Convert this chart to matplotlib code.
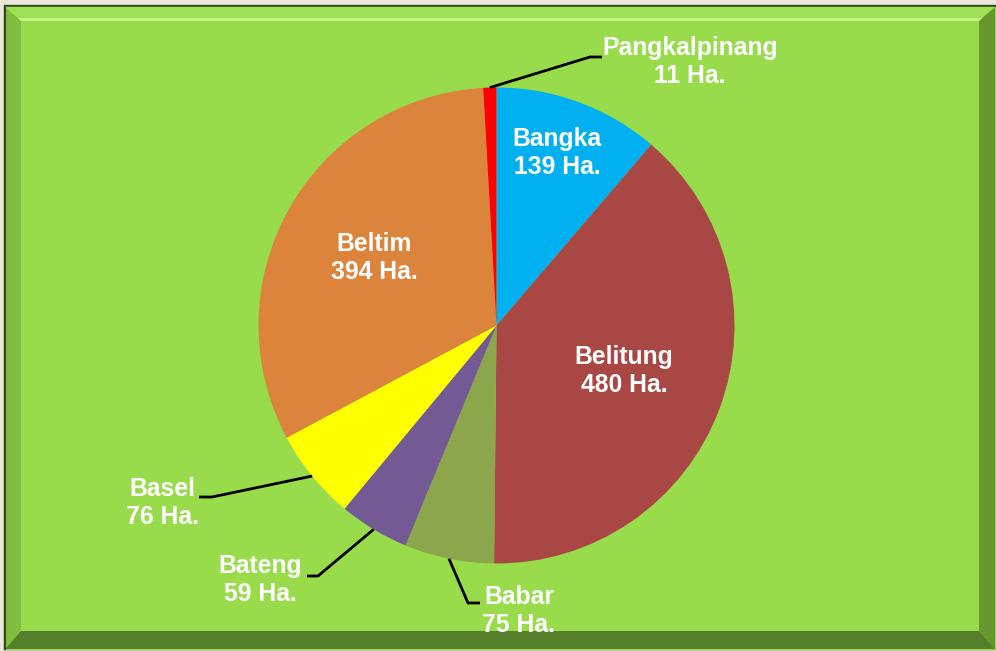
import numpy as np
import matplotlib.pyplot as plt
from matplotlib.patches import Polygon, Rectangle

# luas lahan per wilayah (Ha.)
wilayah = ['Bangka', 'Belitung', 'Babar', 'Bateng', 'Basel', 'Beltim', 'Pangkalpinang']
luas = [139, 480, 75, 59, 76, 394, 11]
warna = ['#00B0F0', '#A94744', '#8CA64B', '#735A94', '#FFFF00', '#DD843C', '#FF0000']

W, H = 996, 651
fig = plt.figure(figsize=(W / 100, H / 100), dpi=100)
fig.patch.set_facecolor('#EDE6DA')
ax = fig.add_axes([0, 0, 1, 1])

def yy(y):
    # pixel y (dari atas) -> koordinat data
    return H - y

# panel hijau dengan bingkai bevel
L, R, T, B = 5, 995, 6, 649
iL, iR, iT, iB = 21, 979, 21, 631
ax.add_patch(Rectangle((L - 1, yy(B)), R - L + 2, B - T + 1, color='#2E4A1E', zorder=0))
ax.add_patch(Rectangle((L, yy(B)), R - L, B - T - 1, color='#98DC4C', zorder=0.5))
ax.add_patch(Polygon([(L, yy(T + 1)), (R, yy(T + 1)), (iR, yy(iT)), (iL, yy(iT))],
                     closed=True, color='#9FE055', lw=0, zorder=1))
ax.add_patch(Polygon([(iL - 3, yy(iT - 3)), (iR + 3, yy(iT - 3)), (iR, yy(iT)), (iL, yy(iT))],
                     closed=True, color='#BFF785', lw=0, zorder=1.1))
ax.add_patch(Polygon([(L, yy(T + 1)), (iL, yy(iT)), (iL, yy(iB)), (L, yy(B))],
                     closed=True, color='#80BE40', lw=0, zorder=1))
ax.add_patch(Polygon([(R, yy(T + 1)), (iR, yy(iT)), (iR, yy(iB)), (R, yy(B))],
                     closed=True, color='#66982F', lw=0, zorder=1))
ax.add_patch(Polygon([(L, yy(B)), (iL, yy(iB)), (iR, yy(iB)), (R, yy(B))],
                     closed=True, color='#567F2B', lw=0, zorder=1))
ax.plot([L, L], [yy(T), yy(B)], color='#2E4A1E', lw=1.5, zorder=2)

# pie
cx, cy, rad = 496.5, 325.5, 238
wedges, _ = ax.pie(luas, colors=warna, startangle=90, counterclock=False,
                   center=(cx, yy(cy)), radius=rad,
                   wedgeprops=dict(linewidth=0))
for w in wedges:
    w.set_zorder(3)

# pie() mengubah batas sumbu, jadi set ulang di sini
ax.set_xlim(0, W)
ax.set_ylim(0, H)
ax.set_aspect('equal')
ax.axis('off')

def tepi(i, f=1.0):
    w = wedges[i]
    a = np.deg2rad((w.theta1 + w.theta2) / 2)
    return cx + f * rad * np.cos(a), yy(cy) + f * rad * np.sin(a)

fs = 17.8
tkw = dict(color='white', fontsize=fs, fontweight='bold', family='Liberation Sans',
           ha='center', va='center', linespacing=1.2, zorder=5)

def label(i):
    return f'{wilayah[i]}\n{luas[i]} Ha.'

# label di dalam irisan
ax.text(557, yy(153), label(0), **tkw)
ax.text(624, yy(371), label(1), **tkw)
ax.text(374, yy(258), label(5), **tkw)

# label di luar dengan garis penunjuk
luar = {
    6: ((590, 57), (602, 57), (690, 62)),
    4: ((212, 497), (199, 497), (162, 503)),
    3: ((318, 576), (307, 576), (260, 580)),
    2: ((468, 603), (480, 603), (519, 611)),
}
for i, (siku, ujung, pos) in luar.items():
    x0, y0 = tepi(i)
    ax.plot([x0, siku[0], ujung[0]], [y0, yy(siku[1]), yy(ujung[1])],
            color='black', lw=2, zorder=4, solid_capstyle='butt')
    ax.text(pos[0], yy(pos[1]), label(i), **tkw)

fig.savefig('out.png', dpi=100, facecolor=fig.get_facecolor())
